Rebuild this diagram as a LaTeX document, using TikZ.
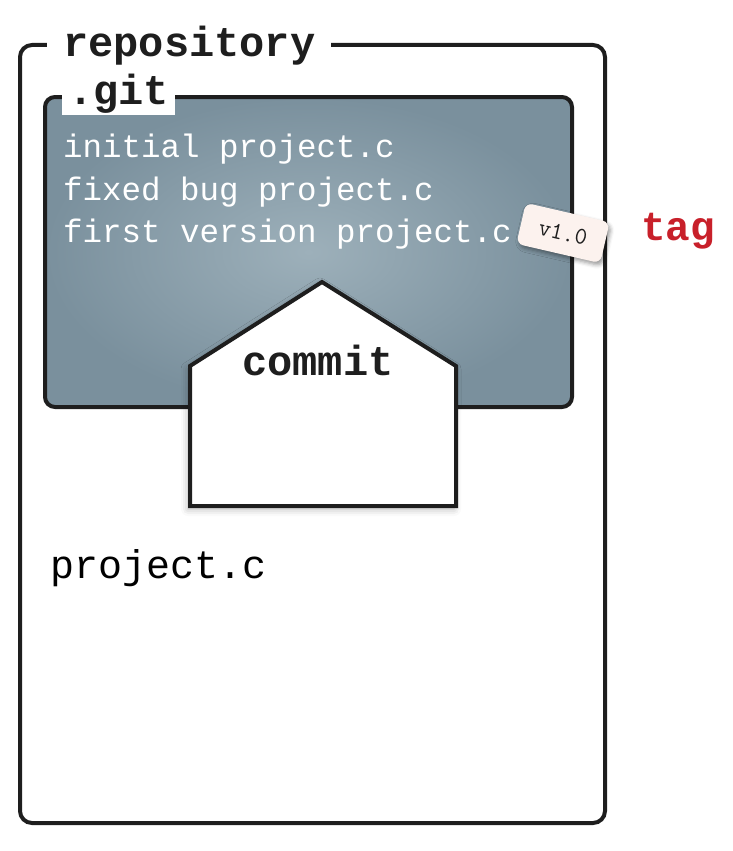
\documentclass[tikz,border=0pt]{standalone}
\usepackage{fontspec}
\setmonofont{Liberation Mono}
\newfontfamily\tagfont{Latin Modern Mono}
\usetikzlibrary{shadows.blur}
\definecolor{gitdark}{HTML}{7A909D}
\definecolor{gitlight}{HTML}{9DB0BA}
\definecolor{tagred}{HTML}{C8202A}
\definecolor{linec}{HTML}{1E1E1E}
\definecolor{tagfill}{HTML}{FCF2EE}
\begin{document}
\begin{tikzpicture}[x=1pt,y=-1pt,
  frame/.style={draw=linec,line width=4pt,rounded corners=12pt},
  title/.style={font=\ttfamily\bfseries\fontsize{42}{48}\selectfont,text=linec,fill=white,anchor=base west,inner xsep=6pt,inner ysep=3pt},
  gitline/.style={font=\ttfamily\fontsize{32.5}{40}\selectfont,text=white,anchor=base west,inner sep=0pt},
  label/.style={font=\ttfamily\fontsize{40}{46}\selectfont,text=black,anchor=base west,inner sep=0pt}]
\useasboundingbox (0,0) rectangle (733,851);
% repository
\draw[frame] (20,45) rectangle (605,823);
\node[title,inner xsep=16pt] (repo) at (47,57) {repository};
% .git
\path[rounded corners=10pt,inner color=gitlight,outer color=gitdark] (45,97) rectangle (572,407);
\draw[frame,rounded corners=10pt] (45,97) rectangle (572,407);
\node[title,inner xsep=6pt,inner ysep=2pt] (git) at (62,104) {.git};
\node[gitline] (l1) at (63,157) {initial project.c};
\node[gitline] (l2) at (63,200) {fixed bug project.c};
\node[gitline] (l3) at (63,242) {first version project.c};
% tag
\node[fill=tagfill,rounded corners=7pt,minimum width=86pt,minimum height=42pt,rotate=-13,
  blur shadow={shadow xshift=2pt,shadow yshift=-3pt,shadow blur radius=4pt,shadow opacity=40},
  font=\tagfont\fontsize{24}{28}\selectfont,text=linec] (v) at (563,233) {v1.0};
\node[font=\ttfamily\bfseries\fontsize{41}{46}\selectfont,text=tagred,anchor=base west,inner sep=0pt] (tag) at (641,240) {tag};
% commit
\coordinate (c1) at (190,506);
\coordinate (c2) at (456,506);
\coordinate (c3) at (456,366);
\coordinate (c4) at (322,282);
\coordinate (c5) at (190,366);
\path[fill=white,draw=linec,line width=4pt,line join=miter,
  blur shadow={shadow xshift=-2pt,shadow yshift=-3pt,shadow blur radius=7pt,shadow opacity=30}]
  (c1) -- (c2) -- (c3) -- (c4) -- (c5) -- cycle;
\node[font=\ttfamily\bfseries\fontsize{42}{48}\selectfont,text=linec,anchor=base,inner sep=0pt] (commit) at (318,375) {commit};
% working file
\node[label] (proj) at (50,578) {project.c};
\end{tikzpicture}
\end{document}
